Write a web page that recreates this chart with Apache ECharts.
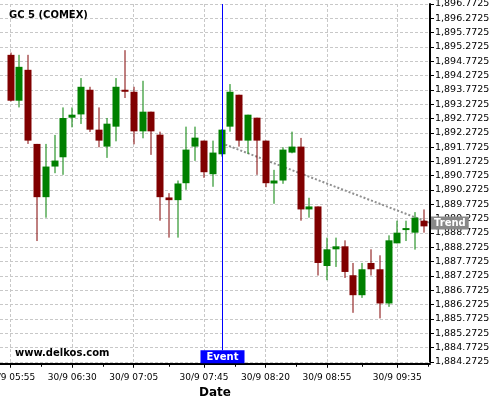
<!DOCTYPE html>
<html><head><meta charset="utf-8">
<script src="https://cdn.jsdelivr.net/npm/echarts@6/dist/echarts.min.js"></script>
<style>html,body{margin:0;padding:0;background:#fff}#c{width:500px;height:400px}</style>
</head><body><div id="c"></div>
<script>
const times = ['30/9 05:55','30/9 06:00','30/9 06:05','30/9 06:10','30/9 06:15','30/9 06:20','30/9 06:25','30/9 06:30','30/9 06:35','30/9 06:40','30/9 06:45','30/9 06:50','30/9 06:55','30/9 07:00','30/9 07:05','30/9 07:10','30/9 07:15','30/9 07:20','30/9 07:25','30/9 07:30','30/9 07:35','30/9 07:40','30/9 07:45','30/9 07:50','30/9 07:55','30/9 08:00','30/9 08:05','30/9 08:10','30/9 08:15','30/9 08:20','30/9 08:25','30/9 08:30','30/9 08:35','30/9 08:40','30/9 08:45','30/9 08:50','30/9 08:55','30/9 09:00','30/9 09:05','30/9 09:10','30/9 09:15','30/9 09:20','30/9 09:25','30/9 09:30','30/9 09:35','30/9 09:40','30/9 09:45','30/9 09:50'];
const open  = [1894.996,1893.393,1894.473,1891.884,1890.023,1891.093,1891.417,1892.800,1892.915,1893.776,1892.382,1891.790,1892.487,1893.776,1893.706,1892.323,1893.010,1892.208,1890.013,1889.919,1890.511,1891.790,1891.999,1890.825,1891.522,1892.487,1893.602,1891.999,1892.800,1891.999,1890.501,1890.605,1891.581,1891.790,1889.595,1889.699,1887.619,1888.201,1888.306,1887.295,1886.598,1887.724,1887.504,1886.309,1888.410,1888.898,1888.783,1889.201];
const close = [1893.393,1894.577,1891.999,1890.023,1891.093,1891.302,1892.790,1892.905,1893.880,1892.382,1891.999,1892.591,1893.880,1893.706,1892.323,1893.010,1892.323,1890.023,1889.919,1890.501,1891.685,1892.103,1890.895,1891.581,1892.382,1893.706,1891.999,1892.905,1891.999,1890.511,1890.605,1891.685,1891.790,1889.595,1889.699,1887.724,1888.201,1888.306,1887.410,1886.598,1887.504,1887.504,1886.309,1888.515,1888.783,1888.943,1889.306,1889.003];
const low   = [1893.368,1893.159,1891.884,1888.490,1889.306,1890.860,1890.804,1892.462,1892.581,1892.302,1891.766,1891.396,1891.974,1893.487,1891.870,1892.079,1891.501,1889.201,1888.609,1888.609,1890.281,1891.292,1890.699,1890.386,1891.440,1892.312,1891.790,1891.535,1890.804,1890.372,1889.793,1890.490,1891.556,1889.201,1889.306,1887.285,1887.121,1887.585,1887.201,1885.982,1886.504,1887.285,1885.787,1886.191,1888.410,1888.490,1888.190,1888.783];
const high  = [1895.076,1894.996,1894.996,1891.884,1891.884,1892.198,1893.159,1893.159,1894.184,1893.880,1893.159,1892.790,1894.184,1895.159,1893.880,1894.090,1893.010,1892.312,1890.163,1890.605,1892.487,1892.487,1891.999,1891.999,1892.400,1893.975,1893.602,1892.905,1892.800,1891.999,1890.978,1891.766,1892.312,1892.093,1890.002,1889.699,1888.609,1888.609,1888.515,1887.724,1887.724,1888.201,1887.992,1888.689,1889.201,1889.201,1889.501,1889.595];
const xTickLabels = ['30/9 05:55','30/9 06:30','30/9 07:05','30/9 07:45','30/9 08:20','30/9 08:55','30/9 09:35'];
const yTicks = [1884.2725,1884.7725,1885.2725,1885.7725,1886.2725,1886.7725,1887.2725,1887.7725,1888.2725,1888.7725,1889.2725,1889.7725,1890.2725,1890.7725,1891.2725,1891.7725,1892.2725,1892.7725,1893.2725,1893.7725,1894.2725,1894.7725,1895.2725,1895.7725,1896.2725,1896.7725];
const eventTime = '30/9 07:55';
const eventLabel = 'Event';
const trendStartTime = '30/9 07:55';
const trendStartValue = 1891.91;
const trendEndValue = 1889.12;
const trendLabel = 'Trend';
const titleText = 'GC 5 (COMEX)';
const siteText = 'www.delkos.com';
const xName = 'Date';

const FONT = '"DejaVu Sans", Verdana, sans-serif';
const UP = '#008000', DOWN = '#800000';
const xMin = -1.218, xMax = 47.72;
const yMin = yTicks[0], yMax = yTicks[yTicks.length - 1];

const candleData = times.map((t, i) => [i, open[i], close[i], low[i], high[i]]);
const xTickIdx = xTickLabels.map(l => times.indexOf(l));
// minor ticks halfway between labelled ticks (and one past the last)
const xMinorIdx = xTickIdx.map((v, k) => k < xTickIdx.length - 1 ? (v + xTickIdx[k + 1]) / 2 : v + (v - xTickIdx[k - 1]) / 2 - 0.5)
  .filter(v => v <= xMax);
const evIdx = times.indexOf(eventTime);
const trIdx = times.indexOf(trendStartTime);

function fmtPrice(v) {
  const k = Math.round((v - yMin) / 0.5);
  const s = (yMin + k * 0.5).toFixed(4);
  const [a, b] = s.split('.');
  return a.replace(/\B(?=(\d{3})+(?!\d))/g, ',') + '.' + b;
}

const chart = echarts.init(document.getElementById('c'), null, {renderer: 'canvas'});
chart.setOption({
  animation: false,
  backgroundColor: '#fff',
  title: [
    {text: titleText, left: 9, top: 10, padding: 0,
     textStyle: {fontFamily: FONT, fontWeight: 'bold', fontSize: 10, color: '#000'}},
    {text: siteText, left: 15, top: 348, padding: 0,
     textStyle: {fontFamily: FONT, fontWeight: 'bold', fontSize: 10, color: '#000'}}
  ],
  grid: {left: 0, right: 70, top: 4, bottom: 38.25, containLabel: false, outerBoundsMode: 'none'},
  xAxis: [{
    type: 'value', min: xMin, max: xMax, offset: 2,
    name: xName, nameLocation: 'middle', nameGap: 20,
    nameTextStyle: {fontFamily: FONT, fontWeight: 'bold', fontSize: 12, color: '#000'},
    axisLine: {show: true, onZero: false, lineStyle: {color: '#000', width: 2}},
    axisTick: {show: true, length: 4, customValues: xTickIdx, lineStyle: {color: '#000'}},
    axisLabel: {customValues: xTickIdx, fontFamily: FONT, fontSize: 9, color: '#000', margin: 9,
      hideOverlap: false, formatter: v => times[Math.round(v)] || ''},
    splitLine: {show: true, lineStyle: {color: '#c8c8c8', type: [3, 2], width: 1}}
  }, {
    type: 'value', min: xMin, max: xMax, offset: 2, position: 'bottom',
    axisLine: {show: false, onZero: false},
    axisTick: {show: true, length: 3, customValues: xMinorIdx, lineStyle: {color: '#000'}},
    axisLabel: {show: false},
    splitLine: {show: false}
  }],
  yAxis: {
    type: 'value', position: 'right', min: yMin, max: yMax,
    axisLine: {show: true, onZero: false, lineStyle: {color: '#000', width: 2}},
    axisTick: {show: true, length: 4, customValues: yTicks, lineStyle: {color: '#000'}},
    axisLabel: {customValues: yTicks, fontFamily: FONT, fontSize: 9.5, color: '#000', margin: 5,
      hideOverlap: false, formatter: v => fmtPrice(v)},
    splitLine: {show: true, lineStyle: {color: '#c8c8c8', type: [3, 2], width: 1}}
  },
  series: [
    {
      type: 'line', z: 2, silent: true, symbol: 'none', clip: false,
      data: [[trIdx, trendStartValue], [xMax, trendEndValue]],
      lineStyle: {color: '#909090', width: 2, type: [2, 2]},
      endLabel: {show: true, formatter: trendLabel, color: '#fff', fontWeight: 'bold',
        fontFamily: FONT, fontSize: 10, backgroundColor: '#888', padding: [2, 3, 1, 3], distance: 1}
    },
    {
      type: 'custom', z: 3, silent: true,
      data: candleData,
      encode: {x: 0, y: [1, 2, 3, 4]},
      renderItem: (params, api) => {
        const x = api.value(0), o = api.value(1), c = api.value(2), l = api.value(3), h = api.value(4);
        const pO = api.coord([x, o]), pC = api.coord([x, c]), pL = api.coord([x, l]), pH = api.coord([x, h]);
        const w = 7;
        const col = c >= o ? UP : DOWN;
        const cx = Math.round(pO[0]);
        const top = Math.min(pO[1], pC[1]);
        const hgt = Math.max(Math.abs(pO[1] - pC[1]), 2);
        return {type: 'group', children: [
          {type: 'line', shape: {x1: cx, y1: pH[1], x2: cx, y2: pL[1]}, style: {stroke: col, lineWidth: 1}},
          {type: 'rect', shape: {x: cx - 3.5, y: top, width: w, height: hgt}, style: {fill: col}}
        ]};
      }
    },
    {
      type: 'custom', z: 4, silent: true,
      data: [[evIdx]],
      encode: {x: 0},
      renderItem: (params, api) => {
        const i = api.value(0);
        const pT = api.coord([i, yMax]);
        const pB = api.coord([i, yMin]);
        const cx = Math.round(pT[0]) + 0.5;
        const bottom = pB[1] + 1.5;
        return {type: 'group', children: [
          {type: 'line', shape: {x1: cx, y1: pT[1], x2: cx, y2: bottom - 13}, style: {stroke: '#0000ff', lineWidth: 1}},
          {type: 'text', x: cx, y: bottom, style: {text: eventLabel, align: 'center', verticalAlign: 'bottom',
            fill: '#fff', font: 'bold 10px ' + FONT, backgroundColor: '#0000ff', padding: [2, 6, 1, 6]}}
        ]};
      }
    }
  ]
});
</script></body></html>
